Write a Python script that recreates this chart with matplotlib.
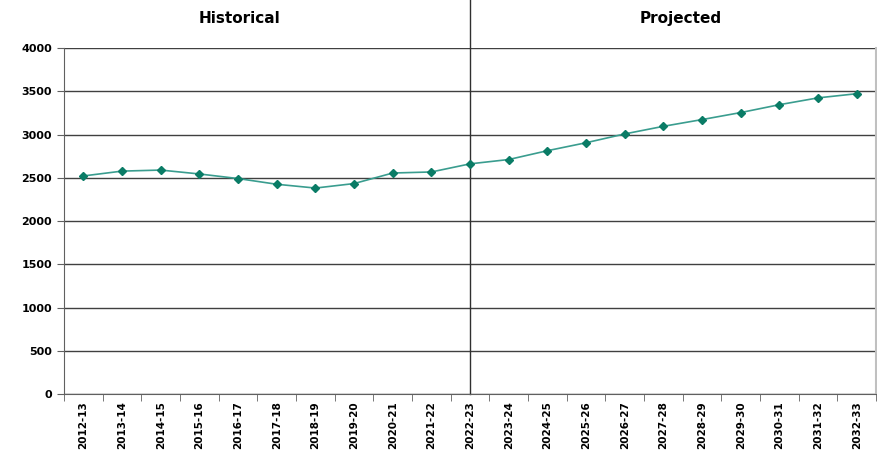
import matplotlib.pyplot as plt
import numpy as np

years = ["2012-13", "2013-14", "2014-15", "2015-16", "2016-17", "2017-18",
         "2018-19", "2019-20", "2020-21", "2021-22", "2022-23", "2023-24",
         "2024-25", "2025-26", "2026-27", "2027-28", "2028-29", "2029-30",
         "2030-31", "2031-32", "2032-33"]
values = [2522, 2578, 2590, 2545, 2492, 2426, 2382, 2434, 2556, 2568, 2662,
          2712, 2814, 2906, 3008, 3096, 3174, 3255, 3346, 3425, 3473]
split_year = "2022-23"

fig = plt.figure(figsize=(8.77, 4.54), dpi=100)
ax = fig.add_axes([0.073, 0.132, 0.926, 0.762])

x = np.arange(len(years))
ax.plot(x, values, color="#3a9d8f", lw=1.2, marker="D", markersize=4.5,
        markerfacecolor="#0a7c66", markeredgecolor="#0a7c66", zorder=3)

ax.set_xlim(-0.5, len(years) - 0.5)
ax.set_ylim(0, 4000)
ax.set_yticks(np.arange(0, 4001, 500))
ax.yaxis.grid(True, color="#404040", lw=1)
ax.set_axisbelow(True)

ax.set_xticks(x)
ax.set_xticklabels(years, rotation=90, fontsize=7.5, fontweight="bold")
ax.set_xticks(np.arange(-0.5, len(years)), minor=True)
ax.tick_params(axis="x", which="major", length=0, pad=5)
ax.tick_params(axis="x", which="minor", length=5, color="#606060")
ax.tick_params(axis="y", length=5, color="#606060", labelsize=8)
for lab in ax.get_yticklabels():
    lab.set_fontweight("bold")

ax.spines["top"].set_visible(False)
ax.spines["left"].set_color("#606060")
ax.spines["bottom"].set_color("#606060")
ax.spines["right"].set_color("#c0c0c0")
ax.spines["right"].set_linewidth(1.5)

xs = years.index(split_year)
ax.axvline(xs, ymin=0, ymax=394 / 346, color="#303030", lw=1, clip_on=False)

ax.text(4.05, 1.085, "Historical", transform=ax.get_xaxis_transform(),
        ha="center", va="center", fontsize=11, fontweight="bold")
ax.text(15.45, 1.085, "Projected", transform=ax.get_xaxis_transform(),
        ha="center", va="center", fontsize=11, fontweight="bold")

fig.savefig("out.png", dpi=100)
